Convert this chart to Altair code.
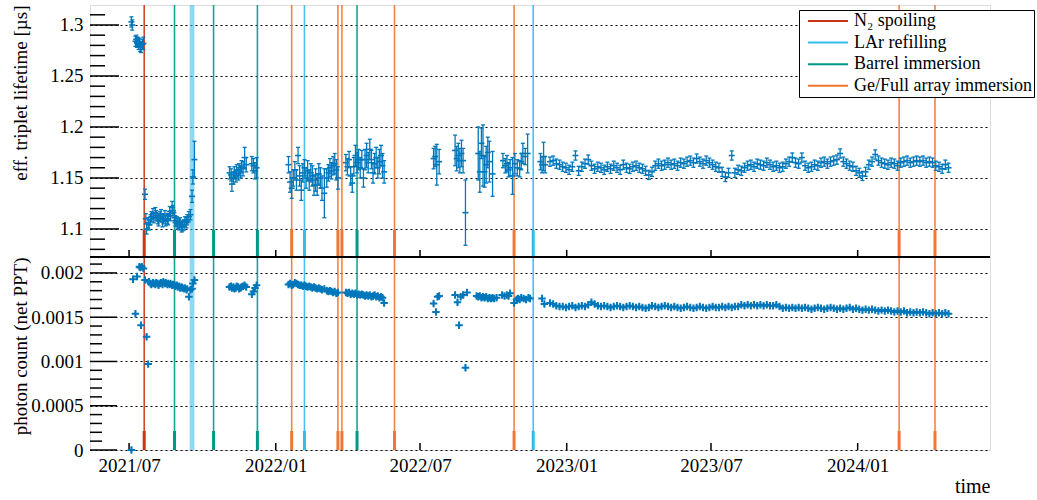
import altair as alt
import pandas as pd

BASE = pd.Timestamp("2021-07-01")   # day offsets below are counted from this date

# ---------------- effective triplet lifetime [us] (top panel) ----------------
lt_days_A = [3, 4, 8, 9, 10, 11, 12, 13, 14, 15, 17, 18]
lt_vals_A = [1.303, 1.300, 1.284, 1.286, 1.283, 1.284, 1.281, 1.283, 1.279, 1.278, 1.281, 1.282]
lt_errs_A = [0.005, 0.005, 0.005, 0.004, 0.005, 0.004, 0.005, 0.004, 0.005, 0.005, 0.005, 0.006]

lt_days_B = [20, 21, 22, 24, 25, 27, 28, 30, 31, 33, 34, 36, 37, 39, 40, 42, 43, 45, 46, 48, 49,
             51, 52, 54, 55, 57, 58, 60, 61, 63, 64, 66, 67, 69, 70, 72, 73, 75, 77, 79, 80, 82]
lt_vals_B = [1.134, 1.110, 1.100, 1.106, 1.104, 1.109, 1.112, 1.115, 1.111, 1.116, 1.113, 1.110,
             1.108, 1.112, 1.114, 1.107, 1.110, 1.113, 1.108, 1.110, 1.109, 1.117, 1.113, 1.121,
             1.118, 1.111, 1.108, 1.107, 1.105, 1.104, 1.106, 1.102, 1.103, 1.104, 1.107, 1.106,
             1.109, 1.112, 1.114, 1.132, 1.151, 1.168]
lt_errs_B = [0.005, 0.005, 0.005, 0.005, 0.005, 0.005, 0.005, 0.005, 0.005, 0.005, 0.005, 0.005,
             0.005, 0.005, 0.005, 0.005, 0.005, 0.005, 0.005, 0.005, 0.005, 0.005, 0.005, 0.006,
             0.005, 0.005, 0.005, 0.005, 0.005, 0.005, 0.005, 0.005, 0.005, 0.005, 0.005, 0.005,
             0.005, 0.005, 0.005, 0.006, 0.007, 0.018]

lt_days_C = [126, 128, 129, 131, 132, 134, 135, 137, 138, 140, 141, 143, 145, 147, 154, 156, 158, 160]
lt_vals_C = [1.155, 1.153, 1.144, 1.150, 1.155, 1.152, 1.157, 1.154, 1.158, 1.156, 1.161, 1.159,
             1.170, 1.163, 1.164, 1.162, 1.157, 1.160]
lt_errs_C = [0.006, 0.006, 0.007, 0.006, 0.006, 0.006, 0.006, 0.006, 0.006, 0.006, 0.006, 0.007,
             0.010, 0.007, 0.007, 0.007, 0.008, 0.010]

lt_days_D = [200, 202, 204, 206, 208, 210, 212, 214, 216, 218,
             220, 222, 224, 226, 228, 230, 232, 234, 236, 238,
             240, 242, 245, 248, 250, 252, 254, 256, 258, 260,
             262, 272, 274, 276, 278, 280, 282, 284, 286, 288,
             290, 292, 294, 296, 298, 300, 302, 304, 306, 308,
             310, 312, 314, 316, 318, 320]
lt_vals_D = [1.163, 1.146, 1.140, 1.150, 1.158, 1.148, 1.172, 1.152, 1.138, 1.155,
             1.160, 1.150, 1.157, 1.148, 1.155, 1.152, 1.143, 1.148, 1.143, 1.154,
             1.150, 1.140, 1.135, 1.150, 1.155, 1.160, 1.157, 1.162, 1.164, 1.158,
             1.150, 1.165, 1.161, 1.168, 1.152, 1.145, 1.161, 1.172, 1.165, 1.168,
             1.160, 1.168, 1.150, 1.168, 1.172, 1.165, 1.178, 1.168, 1.155, 1.164,
             1.170, 1.160, 1.166, 1.172, 1.162, 1.156]
lt_errs_D = [0.008, 0.010, 0.010, 0.008, 0.008, 0.010, 0.008, 0.010, 0.010, 0.009,
             0.008, 0.010, 0.010, 0.010, 0.009, 0.010, 0.010, 0.011, 0.010, 0.010,
             0.010, 0.012, 0.024, 0.009, 0.008, 0.009, 0.008, 0.009, 0.010, 0.010,
             0.011, 0.008, 0.008, 0.008, 0.009, 0.009, 0.009, 0.010, 0.010, 0.010,
             0.010, 0.009, 0.009, 0.010, 0.012, 0.010, 0.010, 0.009, 0.010, 0.010,
             0.010, 0.010, 0.012, 0.010, 0.012, 0.011]

lt_days_E = [382, 384, 386, 389,
             409, 411, 413, 415, 417, 419, 422,
             438, 440, 442, 444, 446, 448, 450, 452, 456,
             469, 472, 474, 476, 478, 481, 484, 487, 490, 492, 494, 497, 500,
             516, 518, 520, 522]
lt_vals_E = [1.169, 1.171, 1.163, 1.166,
             1.177, 1.169, 1.172, 1.167, 1.174, 1.167, 1.116,
             1.174, 1.156, 1.184, 1.172, 1.156, 1.163, 1.175, 1.166, 1.154,
             1.167, 1.162, 1.164, 1.158, 1.160, 1.152, 1.164, 1.160, 1.159, 1.166, 1.174, 1.171, 1.174,
             1.166, 1.163, 1.171, 1.163]
lt_errs_E = [0.010, 0.010, 0.020, 0.012,
             0.015, 0.012, 0.012, 0.012, 0.013, 0.012, 0.032,
             0.026, 0.020, 0.015, 0.030, 0.015, 0.018, 0.015, 0.020, 0.022,
             0.007, 0.007, 0.008, 0.007, 0.008, 0.018, 0.010, 0.008, 0.008, 0.008, 0.010, 0.008, 0.019,
             0.008, 0.008, 0.014, 0.008]

# long stable period, one run every 4 days from day 528
lt_days_F = list(range(528, 1029, 4))
lt_vals_F = [1.166, 1.167, 1.164, 1.163, 1.161, 1.160, 1.158, 1.161, 1.172, 1.157,
             1.161, 1.164, 1.168, 1.162, 1.159, 1.161, 1.160, 1.158, 1.161, 1.159,
             1.162, 1.160, 1.158, 1.163, 1.160, 1.159, 1.161, 1.162, 1.160, 1.159,
             1.157, 1.153, 1.156, 1.162, 1.164, 1.162, 1.163, 1.165, 1.163, 1.164,
             1.162, 1.165, 1.164, 1.166, 1.167, 1.165, 1.169, 1.166, 1.164, 1.167,
             1.165, 1.163, 1.161, 1.160, 1.156, 1.151, 1.155, 1.172, 1.155, 1.158,
             1.157, 1.160, 1.162, 1.163, 1.161, 1.164, 1.163, 1.162, 1.165, 1.163,
             1.161, 1.162, 1.160, 1.161, 1.164, 1.166, 1.170, 1.165, 1.164, 1.170,
             1.162, 1.160, 1.161, 1.163, 1.162, 1.165, 1.166, 1.164, 1.166, 1.167,
             1.168, 1.174, 1.166, 1.164, 1.162, 1.161, 1.157, 1.155, 1.152, 1.156,
             1.163, 1.166, 1.173, 1.167, 1.165, 1.164, 1.163, 1.165, 1.164, 1.162,
             1.165, 1.166, 1.167, 1.165, 1.166, 1.167, 1.166, 1.167, 1.165, 1.166,
             1.165, 1.162, 1.161, 1.159, 1.163, 1.160]
lt_err_F = 0.0045

# ---------------- photon count (net PPT) (bottom panel) ----------------
pc_days_A = [3, 5, 8, 10, 13, 14, 15, 16, 18, 20, 22, 24]
pc_vals_A = [0.0, 0.00193, 0.00154, 0.00196, 0.00207, 0.00206, 0.00141, 0.00207, 0.00205,
             0.00192, 0.00128, 0.00097]

pc_days_B = [25, 27, 28, 30, 31, 33, 34, 36, 37, 39, 40, 42, 43, 45, 46, 48, 49, 51, 52, 54,
             55, 57, 58, 60, 61, 63, 64, 66, 67, 69, 70, 72, 73, 75, 77, 79, 80, 82]
pc_vals_B = [0.00190, 0.00188, 0.00187, 0.00189, 0.00188, 0.00187, 0.00189, 0.00188, 0.00186, 0.00188,
             0.00189, 0.00187, 0.00190, 0.00188, 0.00189, 0.00187, 0.00188, 0.00187, 0.00188, 0.00186,
             0.00187, 0.00186, 0.00185, 0.00186, 0.00184, 0.00185, 0.00183, 0.00184, 0.00183, 0.00182,
             0.00183, 0.00181, 0.00182, 0.00173, 0.00181, 0.00182, 0.00188, 0.00192]

pc_days_C = [126, 128, 129, 131, 132, 134, 135, 137, 138, 140, 141, 143, 145, 147, 154, 156, 158, 160]
pc_vals_C = [0.00184, 0.00185, 0.00183, 0.00184, 0.00182, 0.00183, 0.00185, 0.00184, 0.00182,
             0.00183, 0.00184, 0.00185, 0.00186, 0.00184, 0.00176, 0.00179, 0.00183, 0.00186]

pc_days_D = lt_days_D
pc_vals_D = [0.00187, 0.00188, 0.00186, 0.00187, 0.00189, 0.00188, 0.00187, 0.00186, 0.00186, 0.00185,
             0.00186, 0.00185, 0.00184, 0.00185, 0.00184, 0.00183, 0.00184, 0.00183, 0.00182, 0.00183,
             0.00182, 0.00181, 0.00182, 0.00180, 0.00179, 0.00180, 0.00179, 0.00178, 0.00179, 0.00177,
             0.00178, 0.00178, 0.00177, 0.00178, 0.00176, 0.00177, 0.00176, 0.00177, 0.00175, 0.00176,
             0.00175, 0.00176, 0.00175, 0.00174, 0.00175, 0.00174, 0.00175, 0.00173, 0.00174, 0.00175,
             0.00173, 0.00174, 0.00172, 0.00173, 0.00172, 0.00166]

pc_days_E = [382, 385, 387, 389,
             409, 412, 414, 416, 419, 422, 424,
             436, 438, 440, 442, 444, 446, 448, 450, 452, 454, 456, 458, 461,
             468, 471, 474, 476, 478,
             483, 486, 488, 490, 492, 495, 498, 501, 503,
             518, 521]
pc_vals_E = [0.001655, 0.00156, 0.00173, 0.00174,
             0.00175, 0.00167, 0.00141, 0.00173, 0.00175, 0.00093, 0.00178,
             0.00174, 0.00173, 0.00174, 0.00172, 0.00173, 0.00172, 0.00173, 0.00171, 0.00172,
             0.00171, 0.00172, 0.00171, 0.00172,
             0.00175, 0.00174, 0.00175, 0.00174, 0.00177,
             0.00166, 0.00170, 0.00171, 0.00170, 0.00172, 0.00171, 0.00170, 0.00172, 0.00171,
             0.00171, 0.00165]

pc_days_F = lt_days_F
pc_vals_F = [0.00166, 0.00165, 0.00163, 0.00162, 0.00162, 0.00161, 0.00162, 0.00163, 0.00161, 0.00162,
             0.00163, 0.00162, 0.00164, 0.00167, 0.00165, 0.00163, 0.00162, 0.00163, 0.00162, 0.00161,
             0.00162, 0.00163, 0.00162, 0.00161, 0.00162, 0.00163, 0.00162, 0.00161, 0.00162, 0.00161,
             0.00160, 0.00161, 0.00163, 0.00162, 0.00161, 0.00162, 0.00163, 0.00162, 0.00161, 0.00162,
             0.00161, 0.00160, 0.00161, 0.00162, 0.00161, 0.00160, 0.00161, 0.00162, 0.00161, 0.00160,
             0.00161, 0.00162, 0.00161, 0.00161, 0.00162, 0.00161, 0.00162, 0.00161, 0.00162, 0.00162,
             0.00164, 0.00163, 0.00164, 0.00163, 0.00164, 0.00163, 0.00164, 0.00163, 0.00164, 0.00163,
             0.00163, 0.00164, 0.00162, 0.00160, 0.00161, 0.00160, 0.00161, 0.00160, 0.00161, 0.00160,
             0.00161, 0.00160, 0.00159, 0.00160, 0.00161, 0.00160, 0.00159, 0.00160, 0.00161, 0.00160,
             0.00159, 0.00160, 0.00159, 0.00160, 0.00161, 0.00159, 0.00160, 0.00159, 0.00158, 0.00159,
             0.00158, 0.00159, 0.00158, 0.00157, 0.00158, 0.00157, 0.00158, 0.00157, 0.00156, 0.00157,
             0.00156, 0.00157, 0.00155, 0.00156, 0.00155, 0.00156, 0.00155, 0.00156, 0.00155, 0.00154,
             0.00155, 0.00154, 0.00155, 0.00154, 0.00155, 0.00154]

# ---------------- events ----------------
event_types = ["N\u2082 spoiling", "LAr refilling", "Barrel immersion", "Ge/Full array immersion"]
event_colors = ["#CC3311", "#33BBEE", "#009988", "#EE7733"]
event_dates = ["2021-07-20", "2021-08-27", "2021-10-15", "2021-12-09", "2022-01-21",
               "2022-02-06", "2022-03-20", "2022-03-25", "2022-04-13", "2022-05-30",
               "2022-10-27", "2022-11-20", "2024-02-22", "2024-04-07"]
event_kind = [0, 2, 2, 2, 3, 1, 3, 3, 2, 3, 3, 1, 3, 3]
refill_band = ["2021-09-15", "2021-09-21"]

# ---------------- axes ----------------
x_tick_dates = ["2021-07-01", "2022-01-01", "2022-07-01", "2023-01-01", "2023-07-01", "2024-01-01"]
x_range = ["2021-05-13", "2024-06-15"]
lt_major = [1.1, 1.15, 1.2, 1.25, 1.3]
lt_minor = [1.08, 1.09, 1.11, 1.12, 1.13, 1.14, 1.16, 1.17, 1.18, 1.19,
            1.21, 1.22, 1.23, 1.24, 1.26, 1.27, 1.28, 1.29, 1.31]
lt_range = [1.0725, 1.3196]
pc_major = [0.0, 0.0005, 0.001, 0.0015, 0.002]
pc_minor = [0.0001, 0.0002, 0.0003, 0.0004, 0.0006, 0.0007, 0.0008, 0.0009,
            0.0011, 0.0012, 0.0013, 0.0014, 0.0016, 0.0017, 0.0018, 0.0019, 0.0021]
pc_range = [0.0, 0.00218]
pc_err = 0.00003

# ---------------- build tables ----------------
def to_dates(days):
    return BASE + pd.to_timedelta(days, unit="D")

lt_days = lt_days_A + lt_days_B + lt_days_C + lt_days_D + lt_days_E + lt_days_F
lt_vals = lt_vals_A + lt_vals_B + lt_vals_C + lt_vals_D + lt_vals_E + lt_vals_F
lt_errs = lt_errs_A + lt_errs_B + lt_errs_C + lt_errs_D + lt_errs_E + [lt_err_F] * len(lt_days_F)
lt_df = pd.DataFrame({"date": to_dates(lt_days), "v": lt_vals, "e": lt_errs})
lt_df["lo"] = lt_df["v"] - lt_df["e"]
lt_df["hi"] = lt_df["v"] + lt_df["e"]

pc_days = pc_days_A + pc_days_B + pc_days_C + pc_days_D + pc_days_E + pc_days_F
pc_vals = pc_vals_A + pc_vals_B + pc_vals_C + pc_vals_D + pc_vals_E + pc_vals_F
pc_df = pd.DataFrame({"date": to_dates(pc_days), "v": pc_vals})
pc_df["lo"] = pc_df["v"] - pc_err
pc_df["hi"] = pc_df["v"] + pc_err

ev_df = pd.DataFrame({"date": pd.to_datetime(event_dates),
                      "type": [event_types[k] for k in event_kind]})
band_df = pd.DataFrame({"start": pd.to_datetime([refill_band[0]]),
                        "end": pd.to_datetime([refill_band[1]])})
xt_df = pd.DataFrame({"date": pd.to_datetime(x_tick_dates)})
one_df = pd.DataFrame({"a": [0]})

# ---------------- styling ----------------
W, H, HT = 900, 445, 252
FONT = "Liberation Serif"
BLUE = "#0077BB"


def dt(s):
    t = pd.Timestamp(s)
    return alt.DateTime(year=t.year, month=t.month, date=t.day)


x_scale = alt.Scale(domain=[dt(x_range[0]), dt(x_range[1])])
x_axis = alt.Axis(values=[dt(s) for s in x_tick_dates], format="%Y/%m", ticks=False, domain=False,
                  grid=False, labelFont=FONT, labelFontSize=19, labelColor="black",
                  labelPadding=6, labelFlush=False, title="time", titleFont=FONT,
                  titleFontSize=20, titleFontWeight="normal", titleColor="black",
                  titleAnchor="end", titlePadding=1)


def X(field):
    return alt.X(f"{field}:T", scale=x_scale, axis=x_axis)


def y_axis(values, fmt, title, ty):
    return alt.Axis(orient="left", values=values, format=fmt, ticks=False, domain=False,
                    grid=True, gridColor="black", gridDash=[2, 3], gridWidth=1.2, gridOpacity=1,
                    labelFont=FONT, labelFontSize=19, labelColor="black", labelPadding=7,
                    title=title, titleFont=FONT, titleFontSize=19, titleFontWeight="normal",
                    titleColor="black", titleAngle=270, titleAlign="right",
                    titleBaseline="middle", titleX=-70, titleY=ty)


top_scale = alt.Scale(domain=lt_range, range=[HT, 0], nice=False, zero=False)
top_axis = y_axis(lt_major, ".2~f", "eff. triplet lifetime [\u00b5s]", 0)
bot_scale = alt.Scale(domain=pc_range, range=[H, HT], nice=False, zero=False)
bot_axis = y_axis(pc_major, ".4~f", "photon count (net PPT)", HT)


def YT(field):
    return alt.Y(f"{field}:Q", scale=top_scale, axis=top_axis)


def YB(field):
    return alt.Y(f"{field}:Q", scale=bot_scale, axis=bot_axis)


color = alt.Color("type:N", scale=alt.Scale(domain=event_types, range=event_colors),
                  legend=alt.Legend(orient="none", legendX=709, legendY=5, title=None,
                                    symbolType="M-2.5,0H2.5", symbolSize=256,
                                    symbolStrokeWidth=2, symbolOpacity=1, symbolOffset=18,
                                    labelOffset=17, labelFont=FONT, labelFontSize=18,
                                    labelColor="black", labelLimit=400, labelAlign="left",
                                    padding=2, rowPadding=3.6, strokeColor="black",
                                    fillColor="white", cornerRadius=0))
color_nolegend = alt.Color("type:N", scale=alt.Scale(domain=event_types, range=event_colors),
                           legend=None)

# ---------------- event layers ----------------
band = alt.Chart(band_df).mark_rect(color="#33BBEE", opacity=0.56).encode(
    x=X("start"), x2="end", y=alt.value(0), y2=alt.value(H))
ev_thin = alt.Chart(ev_df).mark_rule(strokeWidth=1.6, opacity=0.9).encode(
    x=X("date"), y=alt.value(0), y2=alt.value(H), color=color)
ev_thick_top = alt.Chart(ev_df).mark_rule(strokeWidth=3).encode(
    x=X("date"), y=alt.value(HT - 27), y2=alt.value(HT), color=color_nolegend)
ev_thick_bot = alt.Chart(ev_df).mark_rule(strokeWidth=3).encode(
    x=X("date"), y=alt.value(H - 19), y2=alt.value(H), color=color_nolegend)
xt_top = alt.Chart(xt_df).mark_rule(color="black", strokeWidth=1.5).encode(
    x=X("date"), y=alt.value(HT - 7), y2=alt.value(HT))
xt_bot = alt.Chart(xt_df).mark_rule(color="black", strokeWidth=1.5).encode(
    x=X("date"), y=alt.value(H - 7), y2=alt.value(H))
sep = alt.Chart(one_df).mark_rule(color="black", strokeWidth=2).encode(
    x=alt.value(0), x2=alt.value(W), y=alt.value(HT))
events = alt.layer(band, ev_thin, ev_thick_top, ev_thick_bot, xt_top, xt_bot, sep)

# ---------------- top panel ----------------
ltmaj_df = pd.DataFrame({"t": lt_major})
ltmin_df = pd.DataFrame({"t": lt_minor})
top_tmaj = alt.Chart(ltmaj_df).mark_rule(color="black", strokeWidth=1.5).encode(
    y=YT("t"), x=alt.value(0), x2=alt.value(29))
top_tmin = alt.Chart(ltmin_df).mark_rule(color="black", strokeWidth=1.5).encode(
    y=YT("t"), x=alt.value(0), x2=alt.value(15))
lt_base = alt.Chart(lt_df)
lt_bar = lt_base.mark_rule(color=BLUE, strokeWidth=1.3).encode(x=X("date"), y=YT("lo"), y2="hi")
lt_cap_lo = lt_base.mark_point(shape="M-1,0H1", size=16, filled=False, color=BLUE,
                               strokeWidth=1.3, opacity=1).encode(x=X("date"), y=YT("lo"))
lt_cap_hi = lt_base.mark_point(shape="M-1,0H1", size=16, filled=False, color=BLUE,
                               strokeWidth=1.3, opacity=1).encode(x=X("date"), y=YT("hi"))
lt_mid = lt_base.mark_point(shape="M-1,0H1", size=36, filled=False, color=BLUE,
                            strokeWidth=1.6, opacity=1).encode(x=X("date"), y=YT("v"))
top = alt.layer(top_tmaj, top_tmin, lt_bar, lt_cap_lo, lt_cap_hi, lt_mid)

# ---------------- bottom panel ----------------
pcmaj_df = pd.DataFrame({"t": pc_major})
pcmin_df = pd.DataFrame({"t": pc_minor})
bot_tmaj = alt.Chart(pcmaj_df).mark_rule(color="black", strokeWidth=1.5).encode(
    y=YB("t"), x=alt.value(0), x2=alt.value(27))
bot_tmin = alt.Chart(pcmin_df).mark_rule(color="black", strokeWidth=1.5).encode(
    y=YB("t"), x=alt.value(0), x2=alt.value(12))
pc_base = alt.Chart(pc_df)
pc_bar = pc_base.mark_rule(color=BLUE, strokeWidth=1.5).encode(x=X("date"), y=YB("lo"), y2="hi")
pc_mid = pc_base.mark_point(shape="M-1,0H1M0,-1V1", size=56, filled=False, color=BLUE,
                            strokeWidth=2, opacity=1).encode(x=X("date"), y=YB("v"))
bot = alt.layer(bot_tmaj, bot_tmin, pc_bar, pc_mid)

chart = alt.layer(events, top, bot).resolve_scale(y="independent").properties(
    width=W, height=H,
    autosize=alt.AutoSizeParams(type="none"),
    padding={"left": 90, "top": 5, "right": 47, "bottom": 50},
).configure_view(stroke="black", strokeWidth=2).configure(background="white")

chart.save("out.html", embed_options={"renderer": "svg", "actions": False})
